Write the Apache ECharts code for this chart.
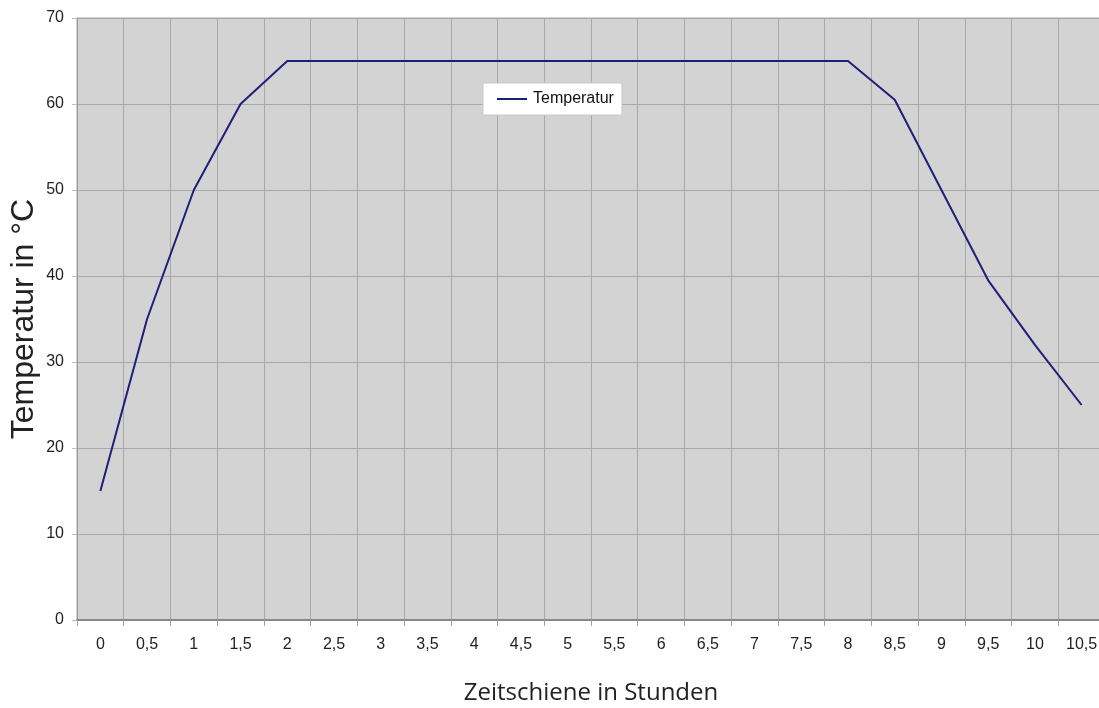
<!DOCTYPE html>
<html><head><meta charset="utf-8">
<script src="https://cdn.jsdelivr.net/npm/echarts@6/dist/echarts.min.js"></script>
<style>html,body{margin:0;padding:0;background:#fff}#c{width:1099px;height:708px}</style>
</head><body><div id="c"></div>
<script>
const categories = ['0','0,5','1','1,5','2','2,5','3','3,5','4','4,5','5','5,5','6','6,5','7','7,5','8','8,5','9','9,5','10','10,5'];
const temperatur = [15,35,50,60,65,65,65,65,65,65,65,65,65,65,65,65,65,60.5,50,39.5,32,25];
const yTicks = {min:0, max:70, interval:10};

const chart = echarts.init(document.getElementById('c'), null, {renderer:'canvas'});
chart.setOption({
  animation:false,
  textStyle:{fontFamily:'Liberation Sans, Arial, sans-serif'},
  grid:{left:77, top:18, width:1028, height:602, outerBoundsMode:'none', containLabel:false,
        show:true, backgroundColor:'#d3d3d3', borderColor:'#a8a8a8', borderWidth:1},
  legend:{
    data:['Temperatur'], left:483, top:83,
    backgroundColor:'#ffffff', borderColor:'#c8c8c8', borderWidth:1, padding:[8,8,8,14],
    itemWidth:30, itemHeight:2, itemGap:8, icon:'rect',
    textStyle:{fontSize:16, color:'#111', fontFamily:'Liberation Sans, Arial, sans-serif', padding:[0,0,0,1]}
  },
  xAxis:{
    type:'category', data:categories, boundaryGap:true,
    name:'Zeitschiene in Stunden', nameLocation:'middle', nameGap:61, nameMoveOverlap:false,
    nameTextStyle:{fontSize:24, color:'#222', fontFamily:'Open Sans, Noto Sans, sans-serif'},
    axisLine:{lineStyle:{color:'#888', width:2}},
    axisTick:{show:true, length:6, lineStyle:{color:'#a0a0a0'}},
    axisLabel:{fontSize:16, color:'#222', margin:17},
    splitLine:{show:true, lineStyle:{color:'#a8a8a8', width:1}}
  },
  yAxis:{
    type:'value', min:yTicks.min, max:yTicks.max, interval:yTicks.interval,
    name:'Temperatur in °C', nameLocation:'middle', nameGap:37, nameRotate:90, nameMoveOverlap:false,
    nameTextStyle:{fontSize:32, color:'#222', fontFamily:'Liberation Sans, Arial, sans-serif'},
    axisLine:{show:true, lineStyle:{color:'#999', width:1}},
    axisTick:{show:true, length:5, lineStyle:{color:'#bbb'}},
    axisLabel:{fontSize:16, color:'#222', margin:13},
    splitLine:{show:true, lineStyle:{color:'#a8a8a8', width:1}}
  },
  series:[{
    name:'Temperatur', type:'line', data:temperatur,
    symbol:'none', lineStyle:{color:'#1f1f78', width:2}, itemStyle:{color:'#1f1f78'}
  }]
});
</script></body></html>
